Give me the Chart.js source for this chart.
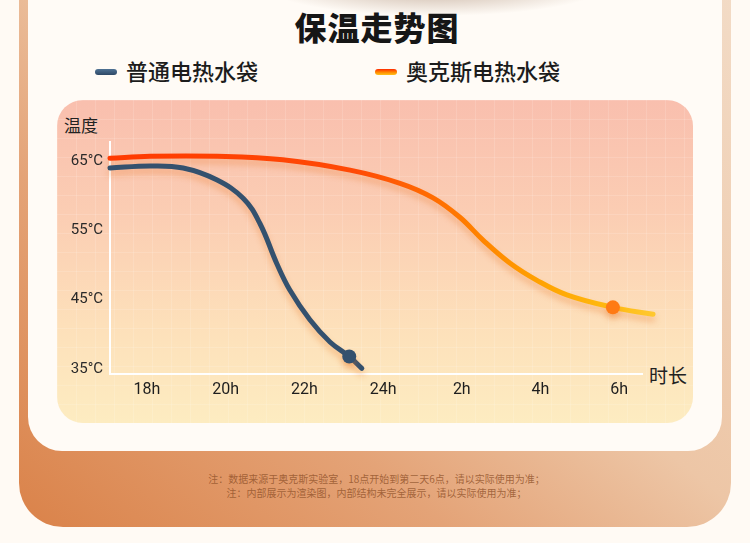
<!DOCTYPE html>
<html>
<head>
<meta charset="utf-8">
<script src="https://cdn.jsdelivr.net/npm/chart.js@4"></script>
<style>
  html, body { margin: 0; padding: 0; }
  body {
    width: 750px; height: 543px; overflow: hidden; position: relative;
    background: #fffaf4;
    font-family: "Noto Sans CJK SC", "Noto Sans", sans-serif;
    color: #1c1c1c;
  }
  .blob {
    position: absolute; left: 0; top: 0; width: 750px; height: 60px;
    background: radial-gradient(ellipse 170px 30px at 435px -14px, rgba(140,100,70,0.5), rgba(140,100,70,0) 100%);
  }
  .frame {
    position: absolute; left: 19px; top: -60px; width: 712px; height: 587px;
    border-radius: 44px;
    background: linear-gradient(to top right, #da8249 0%, #e4a377 30%, #edc6a6 52%, #f3ddc9 100%);
  }
  .card {
    position: absolute; left: 28px; top: -60px; width: 694px; height: 511px;
    border-radius: 34px; background: #fffbf6;
  }
  .panel {
    position: absolute; left: 57px; top: 100px; width: 636px; height: 323px;
    border-radius: 26px;
    background:
      linear-gradient(rgba(255,255,255,0.13) 1px, transparent 1px),
      linear-gradient(90deg, rgba(255,255,255,0.13) 1px, transparent 1px),
      linear-gradient(180deg, #f9bfae 0%, #fbcdb3 35%, #fde0ba 70%, #fdecc1 100%);
    background-size: 19px 19px, 19px 19px, 100% 100%;
  }
  .title {
    position: absolute; left: 0; width: 754px; top: 3px; text-align: center;
    font-size: 32px; font-weight: 900; letter-spacing: 1px; color: #161616;
  }
  .legend { position: absolute; top: 55px; font-size: 22px; font-weight: 500; line-height: 30px; }
  .legend span.sw {
    display: inline-block; width: 22px; height: 6px; border-radius: 3px;
    vertical-align: middle; margin-right: 9px; position: relative; top: -2px;
  }
  .lab { position: absolute; color: #222; }
  .note {
    position: absolute; left: 0; width: 753px; top: 472px; text-align: center;
    font-size: 10px; line-height: 14px; color: rgba(145,82,42,0.8);
  }
  canvas { position: absolute; left: 0; top: 0; }
</style>
</head>
<body>
<div class="frame"></div>
<div class="card"></div>
<div class="blob"></div>
<div class="panel"></div>
<div class="title">保温走势图</div>
<div class="legend" style="left:95px"><span class="sw" style="background:linear-gradient(#4f7294,#2e4866)"></span>普通电热水袋</div>
<div class="legend" style="left:375px"><span class="sw" style="background:linear-gradient(#ff2a00,#ff8a00 55%,#ffc21a)"></span>奥克斯电热水袋</div>
<div class="lab" style="left:64px; top:112px; font-size:17px;">温度</div>
<div class="lab" style="left:649px; top:361px; font-size:19px;">时长</div>
<div class="note">注：数据来源于奥克斯实验室，18点开始到第二天6点，请以实际使用为准；<br>注：内部展示为渲染图，内部结构未完全展示，请以实际使用为准；</div>
<canvas id="chart" width="750" height="543"></canvas>
<script>
// series names
const seriesNames = ['普通电热水袋', '奥克斯电热水袋'];

// time axis (hours, 24h = midnight, 26 = 2h next day)
const xTickHours = [18, 20, 22, 24, 26, 28, 30];
const xTickLabels = ['18h', '20h', '22h', '24h', '2h', '4h', '6h'];
const yTicks = [35, 45, 55, 65];

// 普通电热水袋
const plainHours = [17.06, 18.08, 18.92, 19.77, 20.45, 20.87, 21.30, 21.63, 22.14, 22.65, 23.14, 23.46];
const plainTemps = [64.0, 64.3, 64.0, 62.3, 59.6, 56.0, 50.2, 46.4, 42.1, 38.9, 36.8, 35.1];
const plainDot = 10;

// 奥克斯电热水袋
const auxHours = [17.06, 18.08, 19.78, 21.45, 23.16, 24.43, 25.27, 25.95, 26.54, 27.22, 27.91, 28.67, 29.84, 30.86];
const auxTemps = [65.4, 65.7, 65.7, 65.2, 63.7, 61.8, 59.7, 56.9, 53.6, 50.3, 47.8, 45.7, 43.9, 42.9];
const auxDot = 12;

const toPoints = (xs, ys) => xs.map((x, i) => ({ x: x, y: ys[i] }));

// horizontal red -> yellow gradient for the aux line
function auxGradient(context) {
    const { ctx, chartArea } = context.chart;
    if (!chartArea) return '#ff6a00';
    const g = ctx.createLinearGradient(chartArea.left, 0, chartArea.right + 12, 0);
    g.addColorStop(0, '#ff3a00');
    g.addColorStop(0.45, '#ff4a06');
    g.addColorStop(0.64, '#ff7800');
    g.addColorStop(0.78, '#ffa000');
    g.addColorStop(0.92, '#ffbb12');
    g.addColorStop(1, '#ffc830');
    return g;
}

// soft glow under the lines
const lineShadow = {
    id: 'lineShadow',
    beforeDatasetDraw(chart) {
        const c = chart.ctx;
        c.save();
        c.shadowColor = 'rgba(235,120,40,0.38)';
        c.shadowBlur = 6;
        c.shadowOffsetY = 5;
    },
    afterDatasetDraw(chart) {
        chart.ctx.restore();
    }
};

const config = {
    type: 'line',
    data: {
        datasets: [{
            label: seriesNames[0],
            data: toPoints(plainHours, plainTemps),
            borderColor: '#34516e',
            backgroundColor: '#34516e',
            borderWidth: 5,
            borderCapStyle: 'round',
            tension: 0.4,
            pointRadius: ctx => ctx.index === plainDot ? 7 : 0,
            pointBorderWidth: 0,
            clip: false,
        }, {
            label: seriesNames[1],
            data: toPoints(auxHours, auxTemps),
            borderColor: auxGradient,
            backgroundColor: '#ff7a14',
            borderWidth: 5,
            borderCapStyle: 'round',
            tension: 0.4,
            pointRadius: ctx => ctx.index === auxDot ? 7 : 0,
            pointBorderWidth: 0,
            clip: false,
        }]
    },
    options: {
        responsive: false,
        animation: false,
        events: [],
        layout: { padding: { left: 50, right: 108, top: 142, bottom: 139 } },
        plugins: { legend: { display: false }, tooltip: { enabled: false } },
        scales: {
            x: {
                type: 'linear',
                min: 17.06,
                max: 30.58,
                afterFit: scale => { scale.height = 30; },
                afterBuildTicks: scale => { scale.ticks = xTickHours.map(v => ({ value: v })); },
                grid: { display: false, drawTicks: false },
                border: { display: true, color: '#ffffff', width: 2 },
                ticks: {
                    padding: 6,
                    color: '#1e1e1e',
                    font: { family: 'Roboto, "Noto Sans", sans-serif', size: 16 },
                    callback: v => xTickLabels[xTickHours.indexOf(v)],
                },
            },
            y: {
                min: 34.28,
                max: 67.76,
                afterFit: scale => { scale.width = 60; },
                afterBuildTicks: scale => { scale.ticks = yTicks.map(v => ({ value: v })); },
                grid: { display: false, drawTicks: false },
                border: { display: true, color: '#ffffff', width: 2 },
                ticks: {
                    padding: 7,
                    color: '#2a2a2a',
                    font: { family: 'Roboto, "Noto Sans", sans-serif', size: 15 },
                    callback: v => v + '°C',
                },
            },
        },
    },
    plugins: [lineShadow],
};

new Chart(document.getElementById('chart'), config);
</script>
</body>
</html>
